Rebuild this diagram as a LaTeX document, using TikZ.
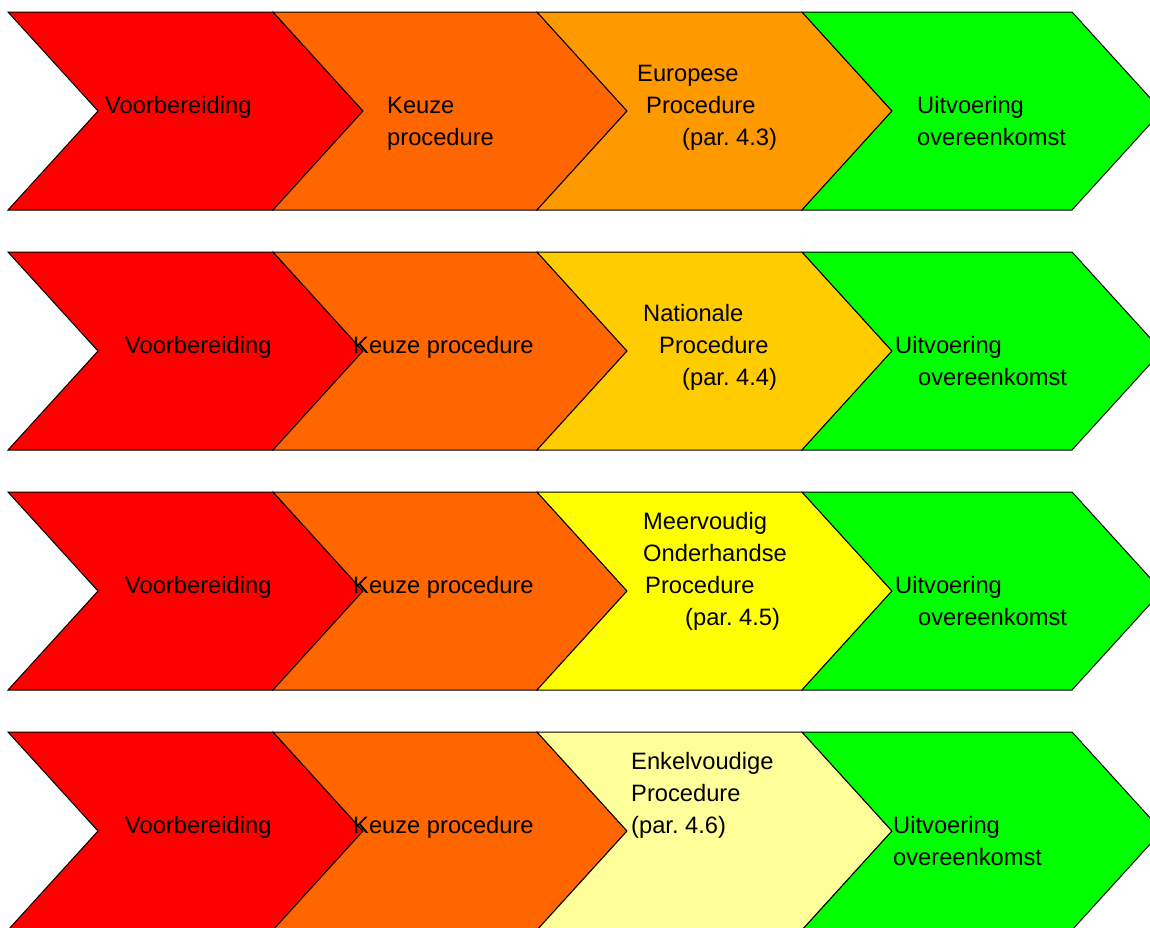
\documentclass[tikz,border=0pt]{standalone}
\usepackage{fontspec}
\setmainfont{Liberation Sans}
\frenchspacing
\definecolor{cRed}{HTML}{FF0000}
\definecolor{cOrange}{HTML}{FF6600}
\definecolor{cAmber}{HTML}{FF9900}
\definecolor{cGold}{HTML}{FFCC00}
\definecolor{cYellow}{HTML}{FFFF00}
\definecolor{cPale}{HTML}{FFFF99}
\definecolor{cGreen}{HTML}{00FF00}
\newcommand\chevshape[4]{%
  \filldraw[chev, fill=#4] (#1,#3) -- (#2,#3) -- ({#2+90},{#3+99}) -- (#2,{#3+198})
    -- (#1,{#3+198}) -- ({#1+90},{#3+99}) -- cycle;}
\newcommand\chevrow[2]{%
  \chevshape{8}{273}{#1}{cRed}
  \chevshape{273}{537}{#1}{cOrange}
  \chevshape{537}{802}{#1}{#2}
  \chevshape{802}{1072}{#1}{cGreen}}
\begin{document}
\begin{tikzpicture}[x=1pt,y=-1pt,
  chev/.style={draw=black, line width=1pt, line join=miter},
  lbl/.style={anchor=base west, inner sep=0pt, font=\fontsize{23.7}{28}\selectfont\frenchspacing}]
\useasboundingbox (0,0) rectangle (1150,927);
\clip (0,0) rectangle (1150,927);
% shapes
\chevrow{12}{cAmber}
\chevrow{252}{cGold}
\chevrow{492}{cYellow}
\chevrow{732}{cPale}
% row 1
\node[lbl] (a1) at (105,113) {Voorbereiding};
\node[lbl] (a2) at (387,113) {Keuze};
\node[lbl] (a3) at (387,145) {procedure};
\node[lbl] (a4) at (637,81) {Europese};
\node[lbl] (a5) at (646,113) {Procedure};
\node[lbl] (a6) at (682,145) {(par. 4.3)};
\node[lbl] (a7) at (917,113) {Uitvoering};
\node[lbl] (a8) at (917,145) {overeenkomst};
% row 2
\node[lbl] (b1) at (125,353) {Voorbereiding};
\node[lbl] (b2) at (353,353) {Keuze procedure};
\node[lbl] (b3) at (643,321) {Nationale};
\node[lbl] (b4) at (659,353) {Procedure};
\node[lbl] (b5) at (682,385) {(par. 4.4)};
\node[lbl] (b6) at (895,353) {Uitvoering};
\node[lbl] (b7) at (918,385) {overeenkomst};
% row 3
\node[lbl] (c1) at (125,593) {Voorbereiding};
\node[lbl] (c2) at (353,593) {Keuze procedure};
\node[lbl] (c3) at (643,529) {Meervoudig};
\node[lbl] (c4) at (643,561) {Onderhandse};
\node[lbl] (c5) at (645,593) {Procedure};
\node[lbl] (c6) at (685,625) {(par. 4.5)};
\node[lbl] (c7) at (895,593) {Uitvoering};
\node[lbl] (c8) at (918,625) {overeenkomst};
% row 4
\node[lbl] (d1) at (125,833) {Voorbereiding};
\node[lbl] (d2) at (353,833) {Keuze procedure};
\node[lbl] (d3) at (631,769) {Enkelvoudige};
\node[lbl] (d4) at (631,801) {Procedure};
\node[lbl] (d5) at (631,833) {(par. 4.6)};
\node[lbl] (d6) at (893,833) {Uitvoering};
\node[lbl] (d7) at (893,865) {overeenkomst};
\end{tikzpicture}
\end{document}
